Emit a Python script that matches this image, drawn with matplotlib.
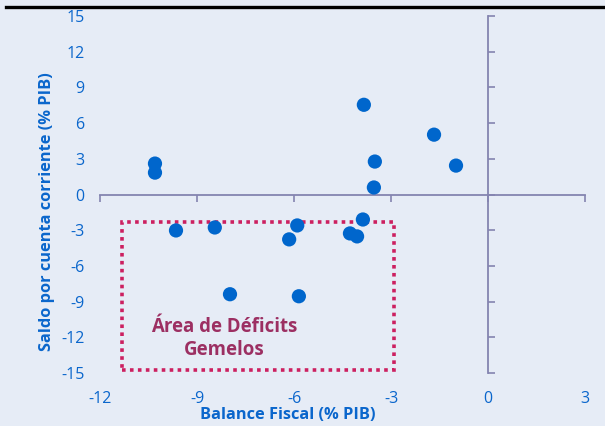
import matplotlib.pyplot as plt
from matplotlib.lines import Line2D
from matplotlib.patches import Rectangle

# Balance fiscal vs saldo por cuenta corriente (% PIB)
balance_fiscal = [-10.3, -10.3, -9.65, -8.45, -7.98, -5.85, -5.9, -6.15,
                  -3.84, -3.5, -3.53, -1.67, -0.99, -3.87, -4.27, -4.05]
cuenta_corriente = [2.6, 1.84, -3.02, -2.77, -8.38, -8.55, -2.6, -3.77,
                    7.54, 2.77, 0.59, 5.03, 2.43, -2.1, -3.27, -3.52]
ticks_x = [-12, -9, -6, -3, 0, 3]
ticks_y = [-15, -12, -9, -6, -3, 0, 3, 6, 9, 12, 15]

bg = '#e6ecf6'
azul = '#0a66cc'
eje = '#8484b0'

plt.rcParams['font.family'] = ['Open Sans', 'DejaVu Sans']
plt.rcParams['axes.unicode_minus'] = False

fig = plt.figure(figsize=(6.05, 4.26), dpi=100, facecolor=bg)
ax = fig.add_axes([0.1653, 0.1244, 0.8017, 0.838], facecolor=bg)

ax.scatter(balance_fiscal, cuenta_corriente, s=105, color='#0066cc',
           zorder=3, edgecolors='none')

# zona de déficits gemelos
ax.add_patch(Rectangle((-11.32, -14.75), 8.41, 12.4, fill=False,
                       edgecolor='#cc2060', linestyle=(0, (1, 1.2)),
                       linewidth=2.6, zorder=2))
ax.text(-8.17, -12.07, 'Área de Déficits\nGemelos', ha='center', va='center',
        fontsize=13.4, fontweight='bold', color='#9c2f62', linespacing=1.2)

ax.set_xlim(-12, 3)
ax.set_ylim(-15, 15)
ax.set_xticks(ticks_x)
ax.set_yticks(ticks_y)

ax.spines['left'].set_visible(False)
ax.spines['bottom'].set_visible(False)
ax.spines['top'].set_position(('data', 0))
ax.spines['right'].set_position(('data', 0))
for s in ('top', 'right'):
    ax.spines[s].set_color(eje)
    ax.spines[s].set_linewidth(1.3)

ax.tick_params(axis='x', bottom=False, top=True, labelbottom=True,
               labeltop=False, direction='in', length=5, color=eje,
               width=1.2, pad=13, labelsize=11.5, labelcolor=azul)
ax.tick_params(axis='y', left=False, right=True, labelleft=True,
               labelright=False, direction='out', length=5, color=eje,
               width=1.2, pad=6, labelsize=11.5, labelcolor=azul)

ax.set_xlabel('Balance Fiscal (% PIB)', fontsize=11.8, fontweight='bold',
              color=azul)
ax.xaxis.set_label_coords(0.388, -0.094)
ax.set_ylabel('Saldo por cuenta corriente (% PIB)', fontsize=11.8,
              fontweight='bold', color=azul)
ax.yaxis.set_label_coords(-0.093, 0.451)

# línea superior del recuadro
fig.add_artist(Line2D([6 / 605, 1], [1 - 6.5 / 426, 1 - 6.5 / 426],
                      color='black', linewidth=2.4))

fig.savefig('out.png', dpi=100, facecolor=bg)
